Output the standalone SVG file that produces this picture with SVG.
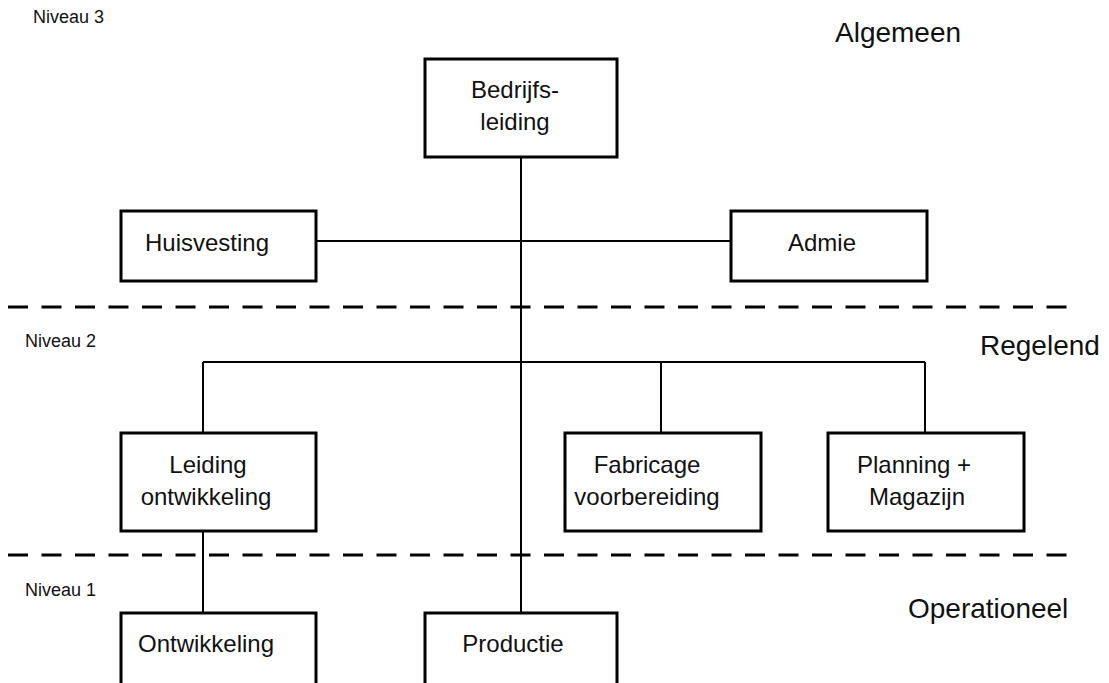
<svg xmlns="http://www.w3.org/2000/svg" width="1109" height="683" viewBox="0 0 1109 683">
<style>
.box{fill:#fff;stroke:#000;stroke-width:3}
.t{font-family:"Liberation Sans",Arial,sans-serif;font-size:24px;fill:#111;text-anchor:middle}
.lvl{font-family:"Liberation Sans",Arial,sans-serif;font-size:18px;fill:#111}
.zone{font-family:"Liberation Sans",Arial,sans-serif;font-size:28px;fill:#111}
.c{stroke:#000;stroke-width:2;fill:none}
.dash{stroke:#000;stroke-width:3;stroke-dasharray:20 13.5;fill:none}
</style>
<rect width="1109" height="683" fill="#fff"/>
<g id="separators">
<line class="dash" x1="8" y1="307" x2="1072" y2="307"/>
<line class="dash" x1="8" y1="555" x2="1072" y2="555"/>
</g>
<g id="labels">
<text class="lvl" x="33" y="23">Niveau 3</text>
<text class="lvl" x="25" y="347">Niveau 2</text>
<text class="lvl" x="25" y="596">Niveau 1</text>
<text class="zone" x="835" y="42">Algemeen</text>
<text class="zone" x="980" y="355">Regelend</text>
<text class="zone" x="908" y="618">Operationeel</text>
</g>
<g id="connectors">
<line class="c" x1="521" y1="157" x2="521" y2="613"/>
<line class="c" x1="316" y1="241" x2="731" y2="241"/>
<line class="c" x1="203" y1="362" x2="925" y2="362"/>
<line class="c" x1="203" y1="362" x2="203" y2="433"/>
<line class="c" x1="661" y1="362" x2="661" y2="433"/>
<line class="c" x1="925" y1="362" x2="925" y2="433"/>
<line class="c" x1="203" y1="531" x2="203" y2="613"/>
</g>
<g id="bedrijfsleiding">
<rect class="box" x="425" y="59" width="192" height="98"/>
<text class="t" x="515" y="98">Bedrijfs-</text>
<text class="t" x="515" y="130">leiding</text>
</g>
<g id="huisvesting">
<rect class="box" x="121" y="211" width="195" height="70"/>
<text class="t" x="207" y="251">Huisvesting</text>
</g>
<g id="admie">
<rect class="box" x="731" y="211" width="196" height="70"/>
<text class="t" x="822" y="251">Admie</text>
</g>
<g id="leiding-ontwikkeling">
<rect class="box" x="121" y="433" width="195" height="98"/>
<text class="t" x="208" y="473">Leiding</text>
<text class="t" x="206" y="505">ontwikkeling</text>
</g>
<g id="fabricage">
<rect class="box" x="565" y="433" width="196" height="98"/>
<text class="t" x="647" y="473">Fabricage</text>
<text class="t" x="647" y="505">voorbereiding</text>
</g>
<g id="planning">
<rect class="box" x="828" y="433" width="196" height="98"/>
<text class="t" x="914" y="473">Planning +</text>
<text class="t" x="917" y="505">Magazijn</text>
</g>
<g id="ontwikkeling">
<rect class="box" x="121" y="613" width="195" height="90"/>
<text class="t" x="206" y="652">Ontwikkeling</text>
</g>
<g id="productie">
<rect class="box" x="425" y="613" width="192" height="90"/>
<text class="t" x="513" y="652">Productie</text>
</g>
</svg>
